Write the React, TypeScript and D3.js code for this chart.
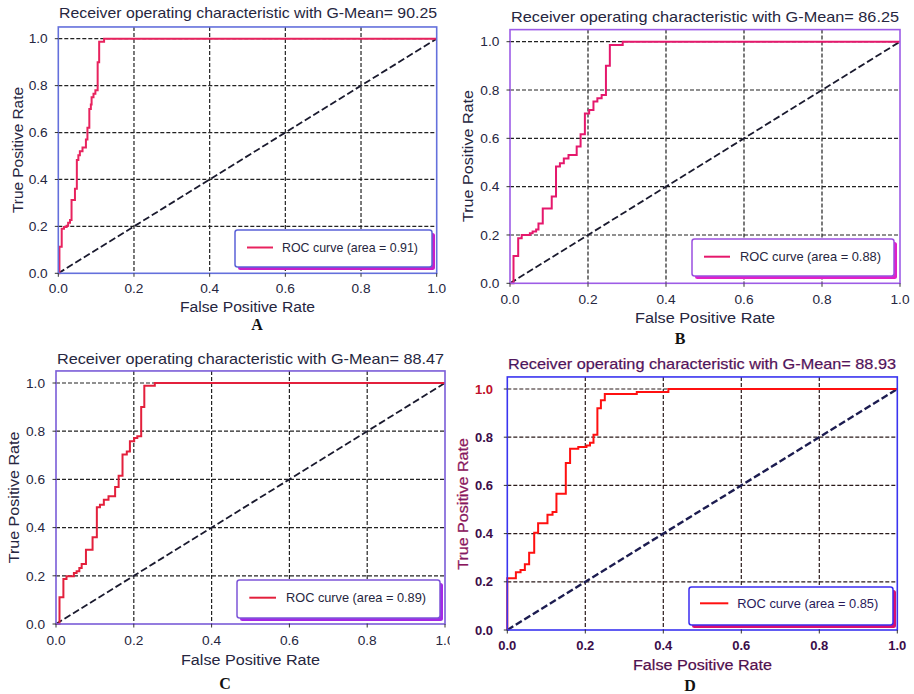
import React from "react";
import * as d3 from "d3";

// ---------- data ----------
const TICKS = [0, 0.2, 0.4, 0.6, 0.8, 1.0];
const TICK_LABELS = ["0.0", "0.2", "0.4", "0.6", "0.8", "1.0"];
const G_MEANS = ["90.25", "86.25", "88.47", "88.93"];
const AUCS = ["0.91", "0.88", "0.89", "0.85"];
const LETTERS = ["A", "B", "C", "D"];

const fprA = [0, 0.003, 0.003, 0.009, 0.009, 0.015, 0.015, 0.022, 0.022, 0.026, 0.026, 0.031, 0.031, 0.035, 0.035, 0.044, 0.044, 0.049, 0.049, 0.053, 0.053, 0.057, 0.057, 0.064, 0.064, 0.073, 0.073, 0.077, 0.077, 0.082, 0.082, 0.086, 0.086, 0.088, 0.088, 0.093, 0.093, 0.098, 0.098, 0.104, 0.104, 0.108, 0.108, 0.121, 0.121, 1.0];
const tprA = [0, 0, 0.113, 0.113, 0.19, 0.19, 0.197, 0.197, 0.203, 0.203, 0.215, 0.215, 0.227, 0.227, 0.312, 0.312, 0.36, 0.36, 0.483, 0.483, 0.503, 0.503, 0.52, 0.52, 0.536, 0.536, 0.57, 0.57, 0.62, 0.62, 0.70, 0.70, 0.72, 0.72, 0.75, 0.75, 0.765, 0.765, 0.78, 0.78, 0.9, 0.9, 0.987, 0.987, 1.0, 1.0];

const fprB = [0, 0.009, 0.009, 0.021, 0.021, 0.030, 0.030, 0.051, 0.051, 0.058, 0.058, 0.067, 0.067, 0.073, 0.073, 0.084, 0.084, 0.107, 0.107, 0.118, 0.118, 0.128, 0.128, 0.138, 0.138, 0.150, 0.150, 0.171, 0.171, 0.181, 0.181, 0.192, 0.192, 0.203, 0.203, 0.214, 0.214, 0.224, 0.224, 0.235, 0.235, 0.246, 0.246, 0.256, 0.256, 0.289, 0.289, 1.0];
const tprB = [0, 0, 0.113, 0.113, 0.186, 0.186, 0.2, 0.2, 0.207, 0.207, 0.214, 0.214, 0.223, 0.223, 0.248, 0.248, 0.31, 0.31, 0.359, 0.359, 0.483, 0.483, 0.497, 0.497, 0.517, 0.517, 0.531, 0.531, 0.566, 0.566, 0.617, 0.617, 0.703, 0.703, 0.717, 0.717, 0.752, 0.752, 0.766, 0.766, 0.779, 0.779, 0.9, 0.9, 0.986, 0.986, 1.0, 1.0];

const fprC = [0, 0.009, 0.009, 0.019, 0.019, 0.027, 0.027, 0.046, 0.046, 0.053, 0.053, 0.060, 0.060, 0.066, 0.066, 0.077, 0.077, 0.094, 0.094, 0.105, 0.105, 0.113, 0.113, 0.123, 0.123, 0.135, 0.135, 0.152, 0.152, 0.161, 0.161, 0.171, 0.171, 0.182, 0.182, 0.190, 0.190, 0.201, 0.201, 0.209, 0.209, 0.219, 0.219, 0.227, 0.227, 0.254, 0.254, 1.0];
const tprC = [0, 0, 0.111, 0.111, 0.187, 0.187, 0.198, 0.198, 0.212, 0.212, 0.219, 0.219, 0.232, 0.232, 0.249, 0.249, 0.308, 0.308, 0.36, 0.36, 0.484, 0.484, 0.495, 0.495, 0.516, 0.516, 0.53, 0.53, 0.568, 0.568, 0.615, 0.615, 0.703, 0.703, 0.716, 0.716, 0.758, 0.758, 0.772, 0.772, 0.779, 0.779, 0.9, 0.9, 0.989, 0.989, 1.0, 1.0];

const fprD = [0, 0, 0.022, 0.022, 0.034, 0.034, 0.045, 0.045, 0.056, 0.056, 0.069, 0.069, 0.079, 0.079, 0.103, 0.103, 0.116, 0.116, 0.126, 0.126, 0.150, 0.150, 0.161, 0.161, 0.182, 0.182, 0.203, 0.203, 0.212, 0.212, 0.221, 0.221, 0.231, 0.231, 0.240, 0.240, 0.250, 0.250, 0.332, 0.332, 0.413, 0.413, 1.0];
const tprD = [0, 0.215, 0.215, 0.24, 0.24, 0.249, 0.249, 0.273, 0.273, 0.321, 0.321, 0.404, 0.404, 0.443, 0.443, 0.478, 0.478, 0.49, 0.49, 0.565, 0.565, 0.693, 0.693, 0.752, 0.752, 0.759, 0.759, 0.766, 0.766, 0.777, 0.777, 0.81, 0.81, 0.92, 0.92, 0.953, 0.953, 0.979, 0.979, 0.988, 0.988, 1.0, 1.0];

const FPRS = [fprA, fprB, fprC, fprD];
const TPRS = [tprA, tprB, tprC, tprD];

// ---------- layout / style ----------
const LAYOUT = [
  {
    left: 58.3, right: 436.7, y0: 273.3, y1: 38.7,
    titleX: 248, titleY: 18, titleLen: 378,
    xTickY: 293, xLabelX: 247.5, xLabelY: 312, xLabelLen: 135,
    yLabelX: 22.5, yLabelY: 150, yLabelLen: 126, yTickRight: 47.7,
    leg: { x: 235, y: 230, w: 197, h: 37, l1: 247, l2: 273, ly: 247.5, tx: 282, tlen: 136 },
    letter: { x: 257, y: 330 },
    frame: "#6470dc", curve: "#e8235e", legBorder: "#5b62d8", legShadow: "#c81ec8",
    text: "#262640", tickText: "#262640", yLabelColor: "#262640", xLabelColor: "#262640", titleColor: "#262640",
    grid: "#222", diag: "#1a1a2e", clip: null,
  },
  {
    left: 510, right: 900, y0: 283.3, y1: 41.7,
    titleX: 705, titleY: 22, titleLen: 388,
    xTickY: 304, xLabelX: 705, xLabelY: 323, xLabelLen: 140,
    yLabelX: 473, yLabelY: 156, yLabelLen: 132, yTickRight: 499.3,
    leg: { x: 692, y: 239, w: 202, h: 37, l1: 704, l2: 730, ly: 256.7, tx: 740, tlen: 141 },
    letter: { x: 680, y: 344 },
    frame: "#9d5ce6", curve: "#e5186c", legBorder: "#9b4fe0", legShadow: "#e020c8",
    text: "#262640", tickText: "#262640", yLabelColor: "#262640", xLabelColor: "#262640", titleColor: "#262640",
    grid: "#222", diag: "#1a1a2e", clip: null,
  },
  {
    left: 56, right: 445, y0: 624, y1: 383,
    titleX: 250.5, titleY: 364, titleLen: 387,
    xTickY: 645, xLabelX: 250.5, xLabelY: 665, xLabelLen: 139,
    yLabelX: 18.5, yLabelY: 497.5, yLabelLen: 131.7, yTickRight: 45,
    leg: { x: 237, y: 580, w: 203, h: 38, l1: 249.3, l2: 276, ly: 597.7, tx: 286, tlen: 140 },
    letter: { x: 225, y: 689 },
    frame: "#7a5cd8", curve: "#e3203c", legBorder: "#7d55d8", legShadow: "#a428e6",
    text: "#262640", tickText: "#262640", yLabelColor: "#262640", xLabelColor: "#262640", titleColor: "#262640",
    grid: "#222", diag: "#1a1a2e", clip: 450,
  },
  {
    left: 507.3, right: 897.3, y0: 630, y1: 389,
    titleX: 702, titleY: 369, titleLen: 388,
    xTickY: 650, xLabelX: 702.5, xLabelY: 670, xLabelLen: 139,
    yLabelX: 468, yLabelY: 504, yLabelLen: 131.7, yTickRight: 493,
    leg: { x: 689, y: 587, w: 204, h: 38, l1: 700, l2: 728.3, ly: 603.3, tx: 737.3, tlen: 141 },
    letter: { x: 690, y: 691 },
    frame: "#3a34f0", curve: "#ff1010", legBorder: "#3b2df0", legShadow: "#d81070",
    text: "#2a1a5a", tickText: "#3b0d4a", yLabelColor: "#7a1b6a", xLabelColor: "#2b1458", titleColor: "#2a1a6a",
    grid: "#2a1a1a", diag: "#1c1c50", clip: null, heavy: true,
  },
];

const FONT = "'Liberation Sans', Arial, Helvetica, sans-serif";

function Panel({ idx }: { idx: number }) {
  const c: any = LAYOUT[idx];
  const fpr = FPRS[idx];
  const tpr = TPRS[idx];
  const x = d3.scaleLinear().domain([0, 1]).range([c.left, c.right]);
  const y = d3.scaleLinear().domain([0, 1]).range([c.y0, c.y1]);
  const top = y(1.05);
  const bottom = y(0);
  const pts: [number, number][] = fpr.map((f, i) => [f, tpr[i]]);
  const line = d3.line<[number, number]>().x((d) => x(d[0])).y((d) => y(d[1]));
  const diagPath = line([[0, 0], [1, 1]]) as string;
  const curvePath = line(pts) as string;
  const heavy = !!c.heavy;
  const textStroke = heavy ? { stroke: "#b01040", strokeWidth: 0.25 } : {};
  const clipId = `clip-${idx}`;

  return (
    <g clipPath={c.clip ? `url(#${clipId})` : undefined}>
      {c.clip && (
        <defs>
          <clipPath id={clipId}>
            <rect x={0} y={330} width={c.clip} height={364} />
          </clipPath>
        </defs>
      )}
      {TICKS.map((t, i) =>
        t > 0 && t < 1 ? (
          <line key={"gx" + i} x1={x(t)} x2={x(t)} y1={top} y2={bottom}
            stroke={c.grid} strokeWidth={1.2} strokeDasharray="4,2" />
        ) : null
      )}
      {TICKS.map((t, i) =>
        t > 0 ? (
          <line key={"gy" + i} x1={c.left} x2={c.right} y1={y(t)} y2={y(t)}
            stroke={c.grid} strokeWidth={1.2} strokeDasharray="4,2" />
        ) : null
      )}
      <path d={diagPath} fill="none" stroke={c.diag} strokeWidth={heavy ? 2.4 : 1.8} strokeDasharray="7,3" />
      <path d={curvePath} fill="none" stroke={c.curve} strokeWidth={2} strokeLinejoin="miter" />
      <rect x={c.left} y={top} width={c.right - c.left} height={bottom - top}
        fill="none" stroke={c.frame} strokeWidth={1.6} />
      {TICKS.map((t, i) => (
        <g key={"tx" + i}>
          <line x1={x(t)} x2={x(t)} y1={bottom} y2={bottom + 3.5} stroke="#333" strokeWidth={1} />
          <text x={x(t)} y={c.xTickY} textAnchor="middle" fontFamily={FONT}
            fontSize={heavy ? 13 : 13.7} fontWeight={heavy ? "bold" : "normal"} fill={c.tickText}>
            {TICK_LABELS[i]}
          </text>
        </g>
      ))}
      {TICKS.map((t, i) => (
        <g key={"ty" + i}>
          <line x1={c.left - 3.5} x2={c.left} y1={y(t)} y2={y(t)} stroke="#333" strokeWidth={1} />
          <text x={c.yTickRight} y={y(t)} dy="0.35em" textAnchor="end" fontFamily={FONT}
            fontSize={heavy ? 13 : 13.7} fontWeight={heavy ? "bold" : "normal"}
            fill={heavy && t === 1 ? "#c0102a" : c.tickText}>
            {TICK_LABELS[i]}
          </text>
        </g>
      ))}
      <text x={c.titleX} y={c.titleY} textAnchor="middle" fontFamily={FONT} fontSize={15}
        fill={c.titleColor} textLength={c.titleLen} lengthAdjust="spacingAndGlyphs" {...textStroke}>
        {`Receiver operating characteristic with G-Mean= ${G_MEANS[idx]}`}
      </text>
      <text x={c.xLabelX} y={c.xLabelY} textAnchor="middle" fontFamily={FONT} fontSize={15.5}
        fill={c.xLabelColor} textLength={c.xLabelLen} lengthAdjust="spacingAndGlyphs" {...textStroke}>
        False Positive Rate
      </text>
      <text transform={`translate(${c.yLabelX},${c.yLabelY}) rotate(-90)`} textAnchor="middle"
        fontFamily={FONT} fontSize={15.5} fill={c.yLabelColor}
        textLength={c.yLabelLen} lengthAdjust="spacingAndGlyphs" {...textStroke}>
        True Positive Rate
      </text>
      <rect x={c.leg.x + 3} y={c.leg.y + 3} width={c.leg.w} height={c.leg.h} rx={2.5}
        fill={c.legShadow} />
      <rect x={c.leg.x} y={c.leg.y} width={c.leg.w} height={c.leg.h} rx={2.5}
        fill="#ffffff" stroke={c.legBorder} strokeWidth={1.5} />
      <line x1={c.leg.l1} x2={c.leg.l2} y1={c.leg.ly} y2={c.leg.ly} stroke={c.curve} strokeWidth={2} />
      <text x={c.leg.tx} y={c.leg.ly} dy="0.35em" fontFamily={FONT} fontSize={12.8}
        fill={c.text} textLength={c.leg.tlen} lengthAdjust="spacingAndGlyphs">
        {`ROC curve (area = ${AUCS[idx]})`}
      </text>
      <text x={c.letter.x} y={c.letter.y} textAnchor="middle"
        fontFamily="'Liberation Serif', 'Times New Roman', serif" fontWeight="bold" fontSize={16} fill="#111">
        {LETTERS[idx]}
      </text>
    </g>
  );
}

export default function App() {
  return (
    <svg width={914} height={694} viewBox="0 0 914 694"
      style={{ position: "absolute", left: 0, top: 0, background: "#ffffff", display: "block" }}>
      <rect x={0} y={0} width={914} height={694} fill="#ffffff" />
      {[0, 1, 2, 3].map((i) => (
        <Panel key={i} idx={i} />
      ))}
    </svg>
  );
}
